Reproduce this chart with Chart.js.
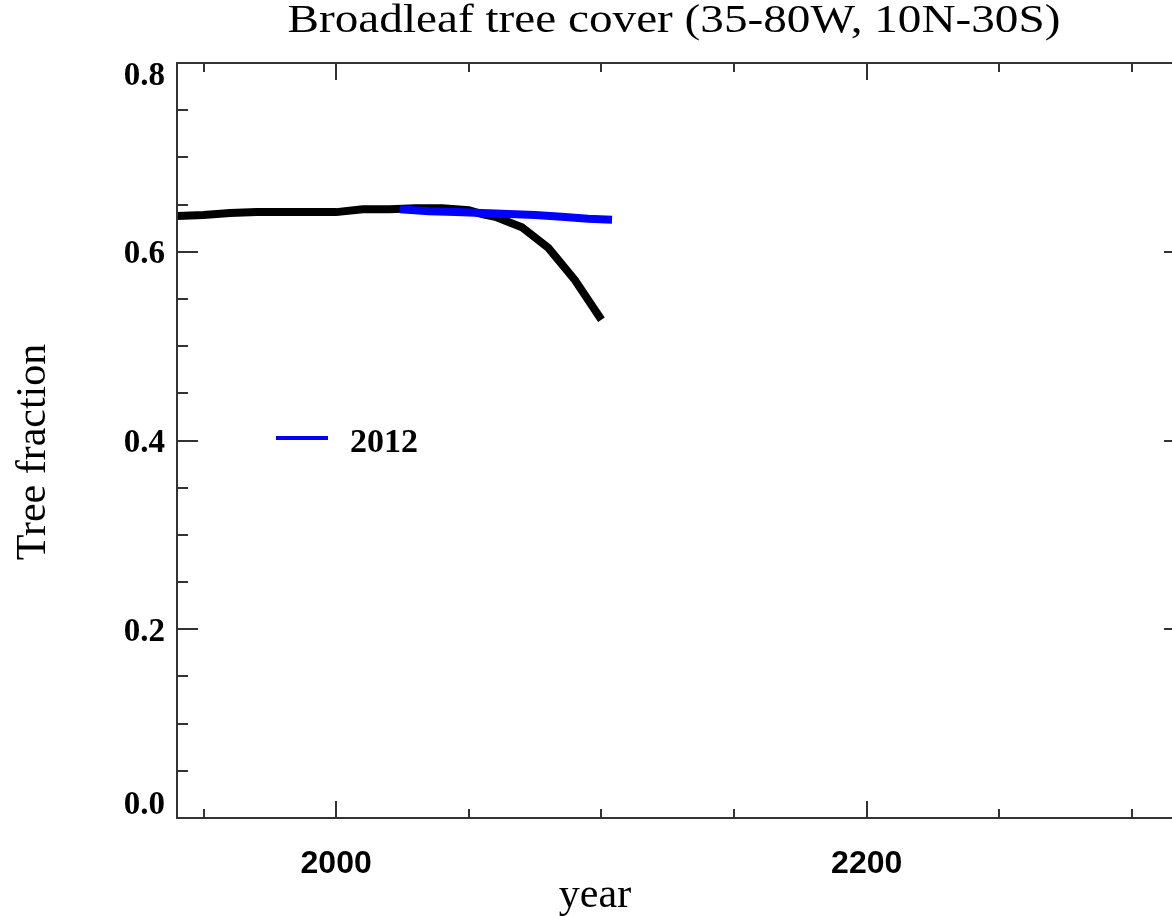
<!DOCTYPE html>
<html>
<head>
<meta charset="utf-8">
<script src="https://cdn.jsdelivr.net/npm/chart.js@4.4.1/dist/chart.umd.min.js"></script>
<style>
  html, body { margin: 0; padding: 0; background: #fff; overflow: hidden; }
  #treeChart { display: block; }
</style>
</head>
<body>
<canvas id="treeChart" width="1200" height="916"></canvas>
<script>
// historical + projection run (black)
const baseYears = [1940, 1950, 1960, 1970, 1980, 1990, 2000, 2010, 2020, 2030, 2040, 2050, 2055, 2060, 2070, 2080, 2090, 2100];
const baseFrac  = [0.638, 0.639, 0.641, 0.642, 0.642, 0.642, 0.642, 0.645, 0.645, 0.646, 0.646, 0.644, 0.640, 0.637, 0.626, 0.604, 0.570, 0.528];

// 2012 run (blue)
const runYears = [2024, 2035, 2045, 2055, 2065, 2075, 2085, 2095, 2104];
const runFrac  = [0.645, 0.643, 0.642, 0.641, 0.640, 0.639, 0.637, 0.635, 0.634];
const runLabel = '2012';

const yTickLabels = [0.0, 0.2, 0.4, 0.6, 0.8];
const xTickLabels = [2000, 2200];

const toPoints = (xs, ys) => xs.map((x, i) => ({ x: x, y: ys[i] }));

// frame, inward ticks and all the text
const decorPlugin = {
  id: 'decor',
  afterDraw(chart) {
    const ctx = chart.ctx;
    const a = chart.chartArea;
    const xs = chart.scales.x;
    const ys = chart.scales.y;

    ctx.save();
    ctx.strokeStyle = '#333';
    ctx.lineWidth = 2;
    ctx.strokeRect(a.left, a.top, a.right - a.left, a.bottom - a.top);

    ctx.beginPath();
    for (let v = 0; v <= 0.8001; v += 0.05) {
      const py = Math.round(ys.getPixelForValue(v));
      const major = Math.abs(v / 0.2 - Math.round(v / 0.2)) < 1e-6;
      const len = major ? 21 : 11;
      ctx.moveTo(a.left, py); ctx.lineTo(a.left + len, py);
      ctx.moveTo(a.right, py); ctx.lineTo(a.right - len, py);
    }
    for (let yr = 1950; yr <= 2300; yr += 50) {
      const px = Math.round(xs.getPixelForValue(yr));
      const len = (yr % 200 === 0) ? 17 : 9;
      ctx.moveTo(px, a.bottom); ctx.lineTo(px, a.bottom - len);
      ctx.moveTo(px, a.top); ctx.lineTo(px, a.top + len);
    }
    ctx.stroke();

    // y tick labels
    ctx.fillStyle = '#000';
    ctx.font = 'bold 33px "Liberation Serif"';
    ctx.textAlign = 'right';
    ctx.textBaseline = 'middle';
    yTickLabels.forEach(v => {
      let py = ys.getPixelForValue(v) + 3;
      py = Math.min(Math.max(py, a.top + 13), a.bottom - 13);
      ctx.fillText(v.toFixed(1), a.left - 12, py);
    });

    // x tick labels
    ctx.font = 'bold 32px "Liberation Sans"';
    ctx.textAlign = 'center';
    ctx.textBaseline = 'alphabetic';
    xTickLabels.forEach(v => {
      ctx.fillText(String(v), xs.getPixelForValue(v), a.bottom + 55);
    });

    // axis titles
    ctx.font = '42px "Liberation Serif"';
    ctx.fillText('year', 595, 907);
    ctx.save();
    ctx.translate(45, 452);
    ctx.rotate(-Math.PI / 2);
    ctx.fillText('Tree fraction', 0, 0);
    ctx.restore();

    // title, wide lettering
    ctx.save();
    ctx.font = '40px "Liberation Serif"';
    ctx.translate(674, 32);
    ctx.scale(1.18, 1);
    ctx.fillText('Broadleaf tree cover (35-80W, 10N-30S)', 0, 0);
    ctx.restore();

    // legend
    const ds = chart.data.datasets[0];
    ctx.strokeStyle = ds.borderColor;
    ctx.lineWidth = 4;
    ctx.beginPath();
    ctx.moveTo(276, 438); ctx.lineTo(328, 438);
    ctx.stroke();
    ctx.font = 'bold 34px "Liberation Serif"';
    ctx.textAlign = 'left';
    ctx.textBaseline = 'middle';
    ctx.fillText(ds.label, 350, 443);
    ctx.restore();
  }
};

new Chart(document.getElementById('treeChart'), {
  type: 'line',
  data: {
    datasets: [{
      label: runLabel,
      data: toPoints(runYears, runFrac),
      borderColor: '#0000ff',
      borderWidth: 8,
      pointRadius: 0,
      tension: 0
    }, {
      label: 'base',
      data: toPoints(baseYears, baseFrac),
      borderColor: '#000000',
      borderWidth: 8,
      pointRadius: 0,
      tension: 0
    }]
  },
  options: {
    responsive: false,
    animation: false,
    devicePixelRatio: 1,
    layout: { padding: { top: 63, right: 15, left: 0, bottom: 0 } },
    plugins: {
      legend: { display: false },
      tooltip: { enabled: false },
      title: { display: false }
    },
    scales: {
      x: {
        type: 'linear',
        min: 1940,
        max: 2320,
        ticks: { display: false },
        grid: { display: false },
        border: { display: false },
        afterFit: s => { s.height = 98; }
      },
      y: {
        min: 0,
        max: 0.8,
        ticks: { display: false },
        grid: { display: false },
        border: { display: false },
        afterFit: s => { s.width = 177; }
      }
    }
  },
  plugins: [decorPlugin]
});
</script>
</body>
</html>
